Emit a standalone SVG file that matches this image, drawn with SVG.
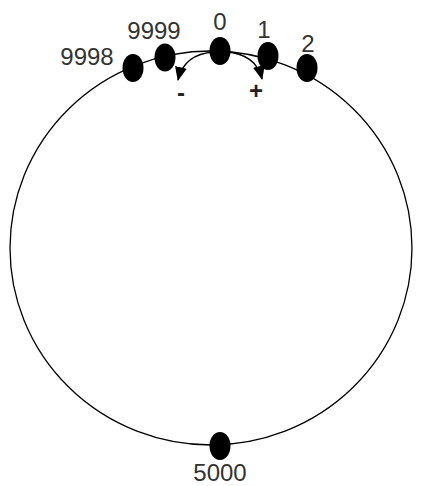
<svg xmlns="http://www.w3.org/2000/svg" width="423" height="486" viewBox="0 0 423 486">
<style>
.node{fill:#000}
.lbl{font-family:"Liberation Sans",Arial,sans-serif;font-size:24px;fill:#333;text-anchor:middle}
.sign{font-family:"Liberation Sans",Arial,sans-serif;font-size:24px;fill:#222;text-anchor:middle;font-weight:bold}
.ring{fill:none;stroke:#000;stroke-width:1.3}
.arr{fill:none;stroke:#000;stroke-width:1.3}
</style>
<defs>
<marker id="ah" viewBox="0 0 14 12" refX="13" refY="6" markerWidth="14" markerHeight="12" markerUnits="userSpaceOnUse" orient="auto">
<path d="M0,0 L14,6 L0,12 z" fill="#000"/>
</marker>
</defs>
<g id="connectors">
<ellipse class="ring" cx="211" cy="248" rx="201" ry="197"/>
<path class="arr" d="M214,52 Q184,54 178,80" marker-end="url(#ah)"/>
<path class="arr" d="M226,52 Q256,54 262,79" marker-end="url(#ah)"/>
</g>
<g id="n0"><ellipse class="node" cx="220" cy="51" rx="10.5" ry="14"/><text class="lbl" x="220" y="30">0</text></g>
<g id="n1"><ellipse class="node" cx="268" cy="56" rx="10.5" ry="14"/><text class="lbl" x="264" y="38">1</text></g>
<g id="n2"><ellipse class="node" cx="307" cy="68" rx="10.5" ry="14"/><text class="lbl" x="308" y="52">2</text></g>
<g id="n9999"><ellipse class="node" cx="165" cy="57.5" rx="10.5" ry="14"/><text class="lbl" x="154" y="39">9999</text></g>
<g id="n9998"><ellipse class="node" cx="133" cy="68" rx="10.5" ry="14"/><text class="lbl" x="87" y="65">9998</text></g>
<g id="n5000"><ellipse class="node" cx="220" cy="446" rx="10.5" ry="14"/><text class="lbl" x="220" y="481">5000</text></g>
<text class="sign" x="181" y="101">-</text>
<text class="sign" x="256" y="99">+</text>
</svg>
